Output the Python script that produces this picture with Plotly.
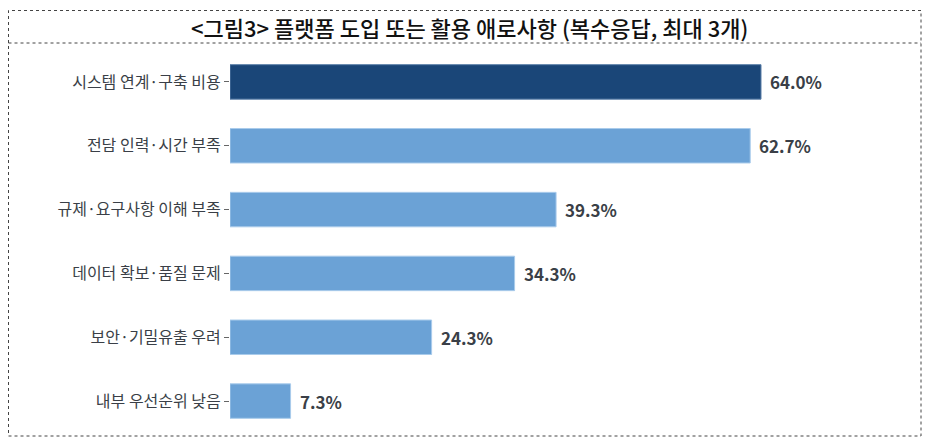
import plotly.graph_objects as go

# chart data
categories = [
    '시스템 연계·구축 비용',
    '전담 인력·시간 부족',
    '규제·요구사항 이해 부족',
    '데이터 확보·품질 문제',
    '보안·기밀유출 우려',
    '내부 우선순위 낮음',
]
values = [64.0, 62.7, 39.3, 34.3, 24.3, 7.3]
value_labels = ['64.0%', '62.7%', '39.3%', '34.3%', '24.3%', '7.3%']

title_text = '<그림3> 플랫폼 도입 또는 활용 애로사항 (복수응답, 최대 3개)'

dark_blue = '#1a4678'
light_blue = '#6ba2d6'
bar_colors = [dark_blue] + [light_blue] * (len(values) - 1)
line_colors = ['#5a7fa8'] + ['#a9cbeb'] * (len(values) - 1)

# the page body has an 8px margin, so the figure is drawn 8px in
OFF = 8
W, H = 930 - 2 * OFF, 445 - 2 * OFF
ML, MT = 230 - OFF, 50 - OFF
MR = W - (880 - OFF)
MB = H - (433 - OFF)
px_per_pct = (761 - 230) / 64.0
x_max = (W - ML - MR) / px_per_pct

fig = go.Figure()
fig.add_trace(go.Bar(
    y=categories,
    x=values,
    orientation='h',
    marker=dict(color=bar_colors, line=dict(color=line_colors, width=1)),
    width=0.54,
    hoverinfo='skip',
))

# value labels just past the bar ends
for cat, val, lab in zip(categories, values, value_labels):
    fig.add_annotation(
        x=val, y=cat, text=lab, showarrow=False,
        xanchor='left', xshift=7,
        font=dict(family='Noto Sans CJK KR', size=17, color='#3a3f47', weight='bold'),
    )

# title box and outer dotted frame, positioned in page pixels
def px_x(v):
    return (v - OFF - ML) / (W - ML - MR)

def px_y(v):
    return 1 - (v - OFF - MT) / (H - MT - MB)

frame = dict(color='#444444', width=1, dash='dot')
fig.add_shape(type='rect', xref='paper', yref='paper',
              x0=px_x(8.5), x1=px_x(921), y0=px_y(436), y1=px_y(10.5), line=frame)
fig.add_shape(type='line', xref='paper', yref='paper',
              x0=px_x(8.5), x1=px_x(921), y0=px_y(43), y1=px_y(43), line=frame)

fig.add_annotation(
    xref='paper', yref='paper', x=px_x(469), y=px_y(27),
    text=title_text.replace('<', '&lt;').replace('>', '&gt;'),
    showarrow=False, xanchor='center', yanchor='middle',
    font=dict(family='Noto Sans CJK KR', size=22, color='#111111', weight=500),
)

fig.update_layout(
    width=W, height=H,
    margin=dict(l=ML, r=MR, t=MT, b=MB),
    paper_bgcolor='white', plot_bgcolor='white',
    showlegend=False,
    xaxis=dict(range=[0, x_max], visible=False, fixedrange=True),
    yaxis=dict(
        autorange='reversed', automargin=False,
        ticks='outside', ticklen=5, tickcolor='#666666', tickwidth=1,
        showline=False, showgrid=False,
        tickfont=dict(family='Noto Sans CJK KR', size=16, color='#3a3f47'),
        fixedrange=True,
    ),
)

fig.write_html('out.html')
